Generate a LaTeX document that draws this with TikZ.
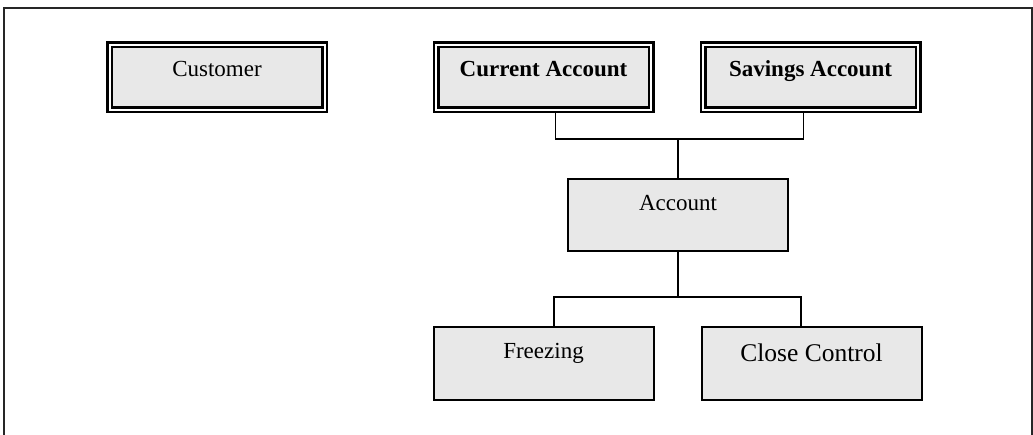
\documentclass[tikz,border=0pt]{standalone}
\usepackage{fontspec}
\setmainfont{Liberation Serif}
\usetikzlibrary{positioning}

\definecolor{boxgray}{RGB}{232,232,232}

\tikzset{
  dbox/.style={draw,line width=2.5pt,double=white,double distance=2pt,fill=boxgray,
    inner sep=0pt,outer sep=3.5pt,minimum width=215pt,
    text height=32pt,text depth=33pt,font=\fontsize{23}{27}\selectfont},
  sbox/.style={draw,line width=2pt,fill=boxgray,inner sep=0pt,outer sep=1pt,
    minimum width=220pt,text height=32pt,text depth=41pt,font=\fontsize{23}{27}\selectfont},
  link/.style={line width=1.5pt},
  frame/.style={line width=1.5pt,black!85}
}

\begin{document}
\begin{tikzpicture}[x=1pt,y=-1pt]
      \useasboundingbox (0,0) rectangle (1033,435);
      % outer frame, open at the bottom
      \draw[frame] (4,440) -- (4,8) -- (1032,8) -- (1032,440);

      \node[dbox] (cust) at (217,77.5) {Customer};
      \node[dbox] (cur) at (543.5,77.5) {\textbf{Current Account}};
      \node[dbox] (sav) at (810.5,77.5) {\textbf{Savings Account}};

      \node[sbox,text depth=40pt] (acc) at (678,215) {Account};
      \node[sbox] (frz) at (543.5,363.5) {Freezing};
      \node[sbox,text height=35pt,text depth=38pt,font=\fontsize{25.5}{30}\selectfont] (cls) at (811.5,363.5) {Close Control};

      \coordinate (top) at (678,139);
      \coordinate (fork) at (678,297);

      \draw[link] ([xshift=12pt]cur.south) |- (top) -| ([xshift=-7pt]sav.south);
      \draw[link] (top) -- (acc.north);
      \draw[link] (acc.south) -- (fork);
      \draw[link] ([xshift=10.5pt]frz.north) |- (fork) -| ([xshift=-10.5pt]cls.north);
\end{tikzpicture}
\end{document}
